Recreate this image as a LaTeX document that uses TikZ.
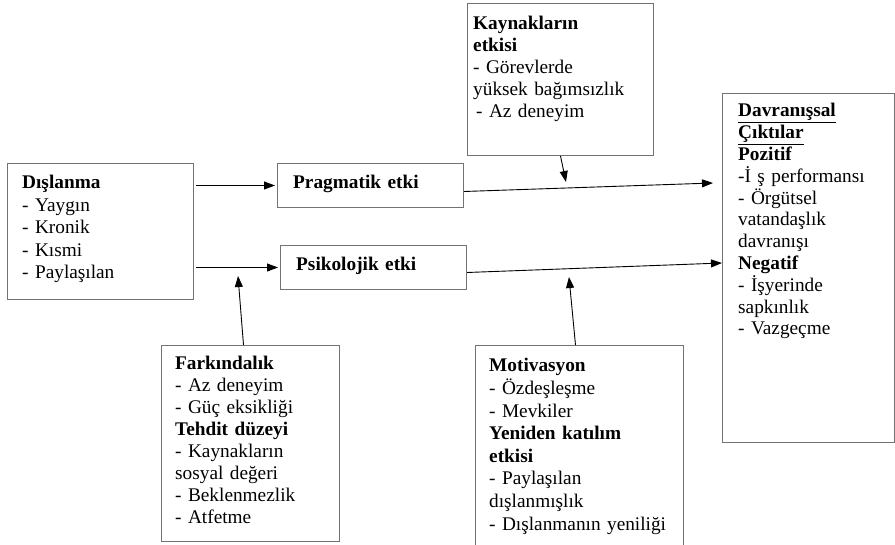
\documentclass[tikz,border=0pt]{standalone}
\usepackage{fontspec}
\setmainfont{Liberation Serif}
\usetikzlibrary{arrows.meta,positioning,calc}
\tikzset{
  box/.style ={draw=black!55,line width=1pt,inner sep=0pt,anchor=north west},
  txt/.style ={anchor=base west,inner sep=0pt,align=left,text width=210pt,font=\fontsize{19.3}{#1}\selectfont},
  txt/.default=22.5,
  arr/.style ={-{Triangle[length=11pt,width=8pt]},line width=0.9pt},
}

\begin{document}
\begin{tikzpicture}[x=1pt,y=-1pt]
  \useasboundingbox (0,0) rectangle (895,545);
  \clip (0,0) rectangle (895,545);
  % boxes
  \node[box,minimum width=186,minimum height=136] (disl)  at (7,163) {};
  \node[box,minimum width=186,minimum height=44]  (prag)  at (277,163) {};
  \node[box,minimum width=186,minimum height=44]  (psik)  at (280,245) {};
  \node[box,minimum width=186,minimum height=152] (kayn)  at (467,3) {};
  \node[box,minimum width=172,minimum height=349] (out)   at (722,93) {};
  \node[box,minimum width=178,minimum height=196] (fark)  at (161,345) {};
  \node[box,minimum width=208,minimum height=220] (motiv) at (475,345) {};
  % texts
  \node[txt] (dislT) at (22,189) {\textbf{Dışlanma}\\- Yaygın\\- Kronik\\- Kısmi\\- Paylaşılan};
  \node[txt] (pragT) at (293,189) {\textbf{Pragmatik etki}};
  \node[txt] (psikT) at (296,271) {\textbf{Psikolojik etki}};
  \node[txt=22] (kaynT) at (473,30) {\textbf{Kaynakların}\\\textbf{etkisi}\\- Görevlerde\\yüksek bağımsızlık\\\hspace{3pt}- Az deneyim};
  \node[txt=21.8] (outT) at (738,117) {\textbf{\underline{Davranışsal}}\\\textbf{\underline{Çıktılar}}\\\textbf{Pozitif}\\-İ ş performansı\\- Örgütsel\\vatandaşlık\\davranışı\\\textbf{Negatif}\\- İşyerinde\\sapkınlık\\- Vazgeçme};
  \node[txt=21.9] (farkT) at (175,370) {\textbf{Farkındalık}\\- Az deneyim\\- Güç eksikliği\\\textbf{Tehdit düzeyi}\\- Kaynakların\\sosyal değeri\\- Beklenmezlik\\- Atfetme};
  \node[txt=22.6] (motivT) at (489,372) {\textbf{Motivasyon}\\- Özdeşleşme\\- Mevkiler\\\textbf{Yeniden katılım}\\\textbf{etkisi}\\- Paylaşılan\\dışlanmışlık\\- Dışlanmanın yeniliği};
  % free ends
  \coordinate (outA) at (713,183);
  \coordinate (outB) at (722,263);
  \coordinate (kdown) at (566,182);
  \coordinate (fup) at (238,276);
  \coordinate (mup) at (569,277);
  % arrows
  \draw[arr] ([xshift=2pt]disl.east |- prag.west) -- ([xshift=-2pt]prag.west);
  \draw[arr] ([xshift=2pt]disl.east |- psik.west) -- ([xshift=-2pt]psik.west);
  \draw[arr] ([yshift=-6pt]prag.east) -- (outA);
  \draw[arr] ([yshift=-5pt]psik.east) -- (outB);
  \draw[arr] (kayn.south) -- (kdown);
  \draw[arr] ([xshift=-7pt]fark.north) -- (fup);
  \draw[arr] ([xshift=-4pt]motiv.north) -- (mup);
\end{tikzpicture}
\end{document}
